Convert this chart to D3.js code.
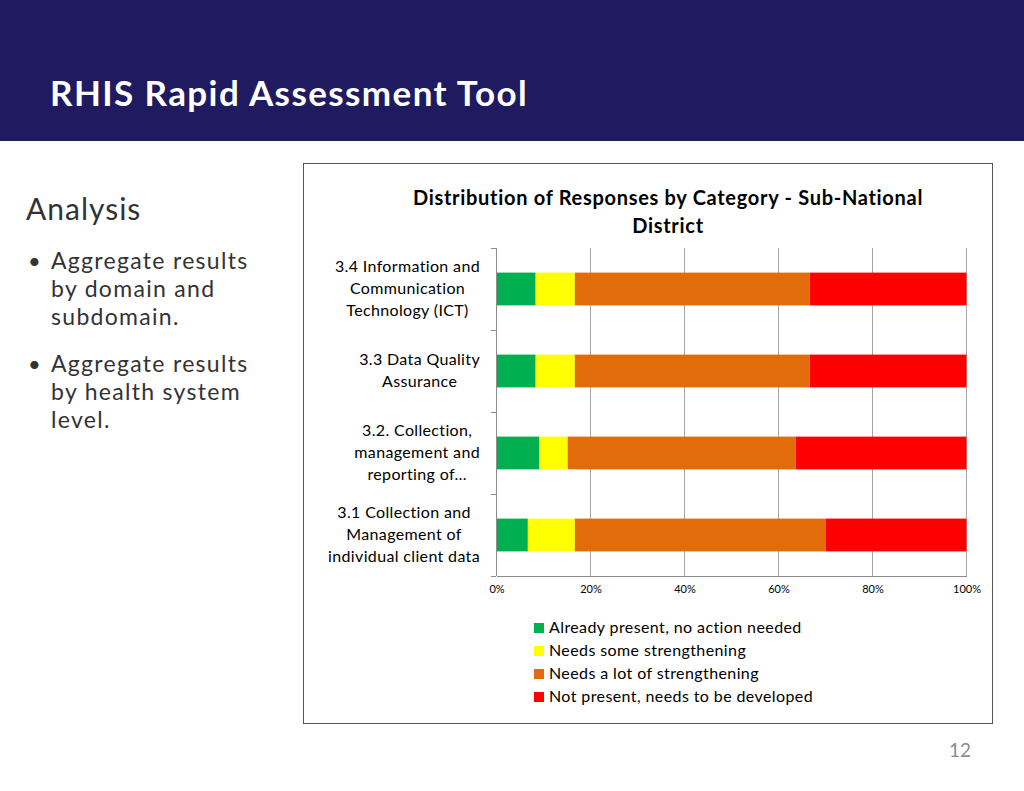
<!DOCTYPE html>
<html><head><meta charset="utf-8">
<script src="https://cdn.jsdelivr.net/npm/d3@7"></script>
<style>body{margin:0;background:#fff}svg{display:block}</style>
</head><body>
<svg id="c" width="1024" height="791"></svg>
<script>
const categories = [
  "3.4 Information and|Communication|Technology (ICT)",
  "3.3 Data Quality|Assurance",
  "3.2. Collection,|management and|reporting of…",
  "3.1 Collection and|Management of|individual client data"
];
const seriesNames = ["Already present, no action needed","Needs some strengthening","Needs a lot of strengthening","Not present, needs to be developed"];
const seriesColors = ["#00b050","#ffff00","#e36c0a","#ff0000"];
const alreadyPresent = [8.33, 8.33, 9.09, 6.67];
const someStrengthening = [8.33, 8.33, 6.06, 10.0];
const lotStrengthening = [50.0, 50.0, 48.48, 53.33];
const notPresent = [33.33, 33.33, 36.36, 30.0];
const xTicks = [0,0.2,0.4,0.6,0.8,1];
const bullets = [["Aggregate results","by domain and","subdomain."],["Aggregate results","by health system","level."]];

const svg = d3.select("#c");
// header
svg.append("rect").attr("x",0).attr("y",0).attr("width",1024).attr("height",141).attr("fill","#201a60");
svg.append("text").attr("x",50).attr("y",106).attr("fill","#fff").attr("font-family","Lato, sans-serif")
  .attr("font-weight","bold").attr("font-size",35).attr("letter-spacing",1.4).text("RHIS Rapid Assessment Tool");

// left panel
svg.append("text").attr("x",26).attr("y",220).attr("fill","#333").attr("font-family","Lato, sans-serif")
  .attr("font-size",30).attr("letter-spacing",1).text("Analysis");
const by0 = [261, 364];
bullets.forEach((b,i)=>{
  svg.append("text").attr("x",28).attr("y",by0[i]+8).attr("fill","#333").attr("font-family","Lato, sans-serif").attr("font-size",22).text("•");
  b.forEach((l,j)=>{
    svg.append("text").attr("x",51).attr("y",by0[i]+8+j*28).attr("fill","#333").attr("font-family","Lato, sans-serif").attr("font-size",23).attr("letter-spacing",1.3).text(l);
  });
});
svg.append("text").attr("x",960).attr("y",757).attr("fill","#8c8c8c").attr("font-family","Lato, sans-serif").attr("font-size",19).attr("text-anchor","middle").text("12");

// chart frame
svg.append("rect").attr("x",303.5).attr("y",163.5).attr("width",689).attr("height",560).attr("fill","#fff").attr("stroke","#555").attr("stroke-width",1);
const F = "Lato, 'Open Sans', sans-serif";
svg.append("text").attr("x",668).attr("y",205).attr("text-anchor","middle").attr("font-family",F).attr("font-weight","bold").attr("font-size",20).attr("letter-spacing",0.7).text("Distribution of Responses by Category - Sub-National");
svg.append("text").attr("x",668).attr("y",233).attr("text-anchor","middle").attr("font-family",F).attr("font-weight","bold").attr("font-size",20).attr("letter-spacing",0.7).text("District");

const x = d3.scaleLinear().domain([0,1]).range([496.5,966.5]);
const y = d3.scaleBand().domain(categories).range([248,576]).paddingInner(0.6).paddingOuter(0.3);

// gridlines
svg.append("g").selectAll("line").data(xTicks.slice(1)).join("line")
  .attr("x1",d=>x(d)).attr("x2",d=>x(d)).attr("y1",248).attr("y2",576).attr("stroke","#a6a6a6").attr("stroke-width",1);

const data = categories.map((c,i)=>({cat:c, s0:alreadyPresent[i]/100, s1:someStrengthening[i]/100, s2:lotStrengthening[i]/100, s3:notPresent[i]/100}));
const stack = d3.stack().keys(["s0","s1","s2","s3"])(data);
svg.append("g").selectAll("g").data(stack).join("g").attr("fill",(d,i)=>seriesColors[i])
  .selectAll("rect").data(d=>d).join("rect")
  .attr("x",d=>x(d[0])).attr("width",d=>x(d[1])-x(d[0])).attr("y",d=>y(d.data.cat)).attr("height",y.bandwidth());

// axes
const ax = svg.append("g").attr("transform","translate(0,576)").call(d3.axisBottom(x).tickValues(xTicks).tickFormat(d3.format(".0%")).tickSize(0).tickPadding(9));
ax.select(".domain").attr("stroke","#8c8c8c");
ax.selectAll("text").attr("font-family",F).attr("font-size",11).attr("fill","#000");
const ay = svg.append("g").attr("transform","translate(496,0)");
ay.append("line").attr("x1",0.5).attr("x2",0.5).attr("y1",248).attr("y2",576).attr("stroke","#8c8c8c");
const bounds = [248].concat(categories.map(c=>y(c)+y.bandwidth()+ (y.step()-y.bandwidth())/2));
ay.selectAll("line.t").data(bounds).join("line").attr("class","t").attr("x1",-5).attr("x2",0).attr("y1",d=>Math.round(d)+0.5).attr("y2",d=>Math.round(d)+0.5).attr("stroke","#8c8c8c");

// category labels
categories.forEach(c=>{
  const lines = c.split("|");
  const g = svg.append("g");
  const cy = y(c)+y.bandwidth()/2;
  const ts = lines.map((l,j)=>g.append("text").attr("font-family",F).attr("font-size",16).attr("letter-spacing",0.35).attr("text-anchor","middle")
    .attr("y",cy + (j-(lines.length-1)/2)*22 + 5).text(l));
  const maxW = d3.max(ts, t=>t.node().getComputedTextLength());
  ts.forEach(t=>t.attr("x",480-maxW/2));
});

// legend
seriesNames.forEach((n,i)=>{
  const ly = 628+i*23;
  svg.append("rect").attr("x",534).attr("y",ly-5).attr("width",10).attr("height",10).attr("fill",seriesColors[i]);
  svg.append("text").attr("x",549).attr("y",ly+5).attr("font-family",F).attr("font-size",16).attr("letter-spacing",0.4).text(n);
});
</script>
</body></html>
